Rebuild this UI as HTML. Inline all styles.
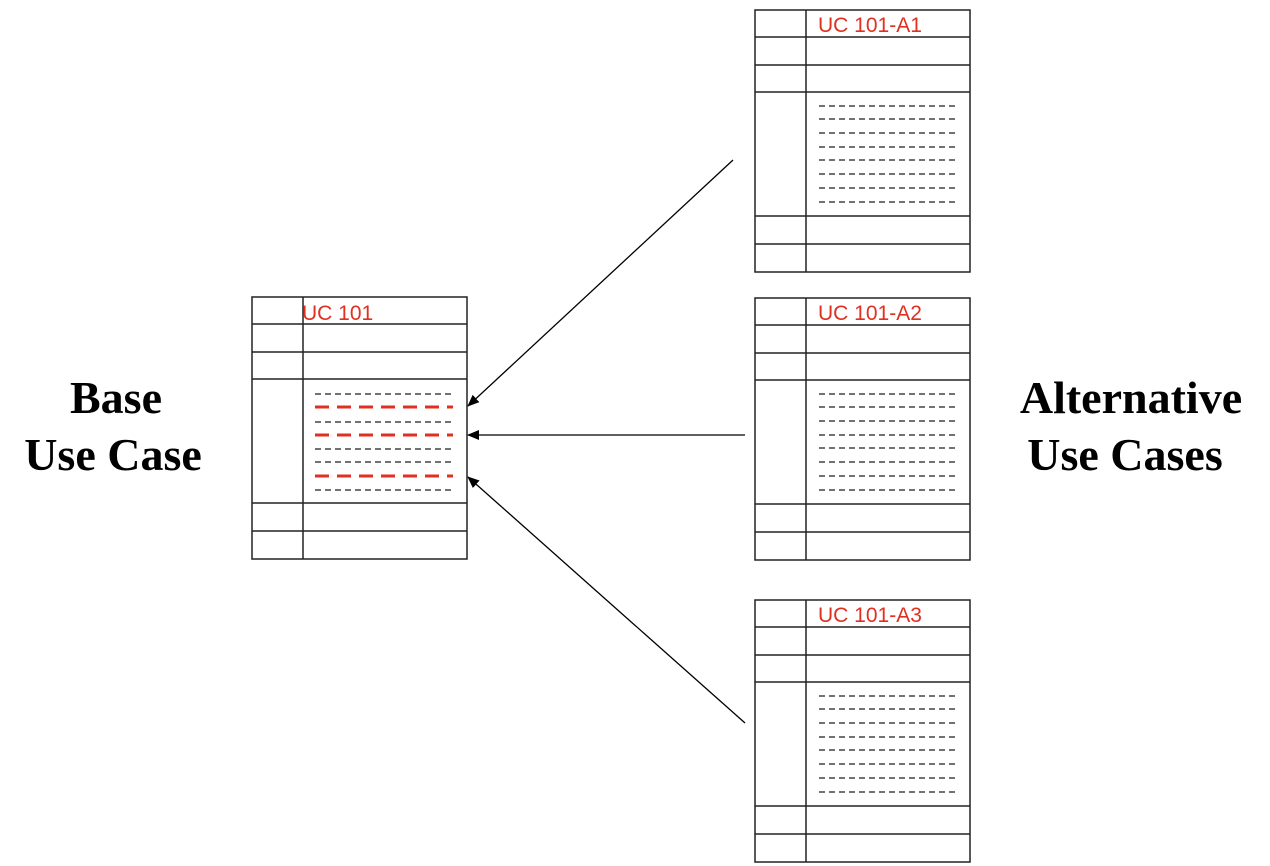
<!DOCTYPE html>
<html><head><meta charset="utf-8"><style>
html,body{margin:0;padding:0;background:#fff;}
svg{display:block;}
</style></head><body>
<svg width="1270" height="866" xmlns="http://www.w3.org/2000/svg">
<defs>
<marker id="ah" markerWidth="12" markerHeight="10" refX="11" refY="5" orient="auto" markerUnits="userSpaceOnUse">
<path d="M0,0 L12,5 L0,10 Z" fill="#000"/>
</marker>
<g id="tbl" fill="none" stroke="#222" stroke-width="1.5">
<rect x="0" y="0" width="215" height="262"/>
<line x1="0" y1="27" x2="215" y2="27"/>
<line x1="0" y1="55" x2="215" y2="55"/>
<line x1="0" y1="82" x2="215" y2="82"/>
<line x1="0" y1="206" x2="215" y2="206"/>
<line x1="0" y1="234" x2="215" y2="234"/>
<line x1="51" y1="0" x2="51" y2="262"/>
</g>
<g id="dash" stroke="#444" stroke-width="1.5" stroke-dasharray="6,4">
<line x1="64" y1="96" x2="203" y2="96"/>
<line x1="64" y1="109" x2="203" y2="109"/>
<line x1="64" y1="123" x2="203" y2="123"/>
<line x1="64" y1="137" x2="203" y2="137"/>
<line x1="64" y1="150" x2="203" y2="150"/>
<line x1="64" y1="164" x2="203" y2="164"/>
<line x1="64" y1="178" x2="203" y2="178"/>
<line x1="64" y1="192" x2="203" y2="192"/>
</g>
</defs>

<g transform="translate(252,297)">
<use href="#tbl"/>
<g stroke="#444" stroke-width="1.5" stroke-dasharray="6,4">
<line x1="63" y1="97" x2="201" y2="97"/>
<line x1="63" y1="125" x2="201" y2="125"/>
<line x1="63" y1="152" x2="201" y2="152"/>
<line x1="63" y1="165" x2="201" y2="165"/>
<line x1="63" y1="193" x2="201" y2="193"/>
</g>
<g stroke="#e03020" stroke-width="3" stroke-dasharray="14,8">
<line x1="63" y1="110" x2="201" y2="110"/>
<line x1="63" y1="138" x2="201" y2="138"/>
<line x1="63" y1="179" x2="201" y2="179"/>
</g>
<text x="50" y="23" font-family="Liberation Sans, sans-serif" font-size="21" fill="#e03020">UC 101</text>
</g>

<g transform="translate(755,10)"><use href="#tbl"/><use href="#dash"/>
<text x="63" y="22" font-family="Liberation Sans, sans-serif" font-size="21" fill="#e03020">UC 101-A1</text></g>
<g transform="translate(755,298)"><use href="#tbl"/><use href="#dash"/>
<text x="63" y="22" font-family="Liberation Sans, sans-serif" font-size="21" fill="#e03020">UC 101-A2</text></g>
<g transform="translate(755,600)"><use href="#tbl"/><use href="#dash"/>
<text x="63" y="22" font-family="Liberation Sans, sans-serif" font-size="21" fill="#e03020">UC 101-A3</text></g>

<g stroke="#000" stroke-width="1.3" fill="none">
<line x1="733" y1="160" x2="468" y2="406" marker-end="url(#ah)"/>
<line x1="745" y1="435" x2="468" y2="435" marker-end="url(#ah)"/>
<line x1="745" y1="723" x2="468" y2="477" marker-end="url(#ah)"/>
</g>

<g font-family="Liberation Serif, serif" font-weight="bold" font-size="46" text-anchor="middle" fill="#000">
<text x="116" y="413">Base</text>
<text x="113" y="470">Use Case</text>
<text x="1131" y="413">Alternative</text>
<text x="1125" y="470">Use Cases</text>
</g>
</svg>
</body></html>
